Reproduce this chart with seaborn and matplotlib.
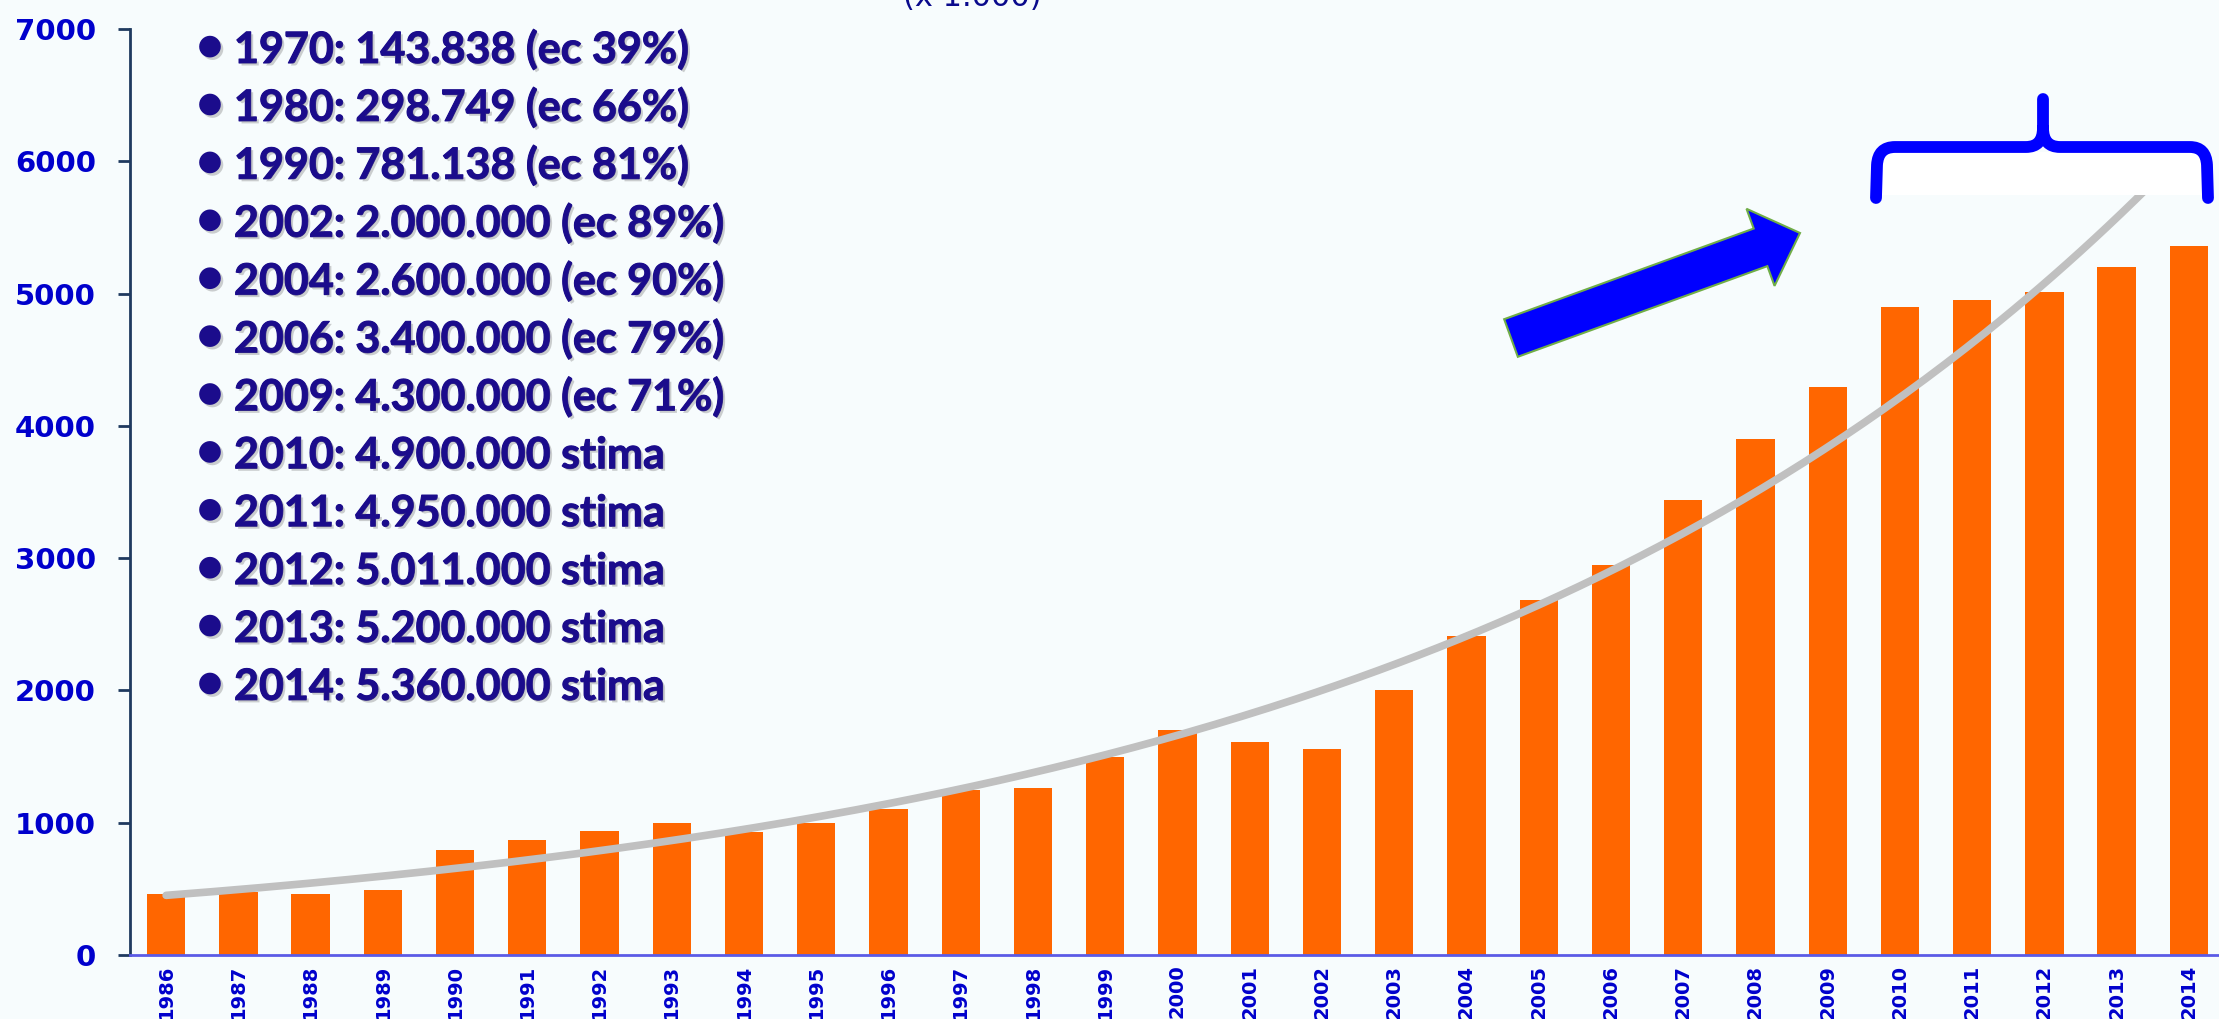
import numpy as np
import pandas as pd
import matplotlib
matplotlib.use('Agg')
import matplotlib.pyplot as plt
import matplotlib.patheffects as pe
from matplotlib.patches import FancyArrow, Rectangle, PathPatch
from matplotlib.path import Path
from matplotlib.transforms import Affine2D
import seaborn as sns

# data (x 1.000)
years = [str(y) for y in range(1986, 2015)]
cases = [460, 480, 460, 490, 790, 870, 935, 1000, 930, 1000,
         1100, 1250, 1260, 1500, 1700, 1610, 1560, 2000, 2410, 2680,
         2950, 3440, 3900, 4290, 4900, 4950, 5011, 5200, 5360]
y_ticks = [0, 1000, 2000, 3000, 4000, 5000, 6000, 7000]
notes = ['1970: 143.838 (ec 39%)',
         '1980: 298.749 (ec 66%)',
         '1990: 781.138 (ec 81%)',
         '2002: 2.000.000 (ec 89%)',
         '2004: 2.600.000 (ec 90%)',
         '2006: 3.400.000 (ec 79%)',
         '2009: 4.300.000 (ec 71%)',
         '2010: 4.900.000 stima',
         '2011: 4.950.000 stima',
         '2012: 5.011.000 stima',
         '2013: 5.200.000 stima',
         '2014: 5.360.000 stima']

W, H = 2219, 1019
BG = '#F7FCFD'
TICKBLUE = '#0000CC'
INK = '#1B0C8C'

sns.set_style('white')
plt.rcParams['font.family'] = ['DejaVu Sans']

fig = plt.figure(figsize=(W / 100, H / 100), dpi=100, facecolor=BG)
ax = fig.add_axes([130 / W, 1 - 955 / H, 2095 / W, 926 / H])
ax.set_facecolor(BG)

df = pd.DataFrame({'anno': years, 'casi': cases})
sns.barplot(data=df, x='anno', y='casi', color='#FF6600', saturation=1,
            width=0.53, linewidth=0, ax=ax, zorder=2)

# exponential trend line (fit on log values)
t = np.arange(len(cases))
b, a = np.polyfit(t, np.log(cases), 1)
tt = np.linspace(0, len(cases) - 1, 300)
ax.plot(tt, np.exp(a + b * tt), color='#C0C0C0', lw=5.5,
        solid_capstyle='round', zorder=3)

ax.set_xlim(-0.5, len(cases) - 0.5)
ax.set_ylim(0, 7000)
ax.set_xlabel('')
ax.set_ylabel('')

for s in ['top', 'right']:
    ax.spines[s].set_visible(False)
ax.spines['left'].set_color('#1F3A5F')
ax.spines['left'].set_linewidth(2)
ax.spines['bottom'].set_color('#5B5BE6')
ax.spines['bottom'].set_linewidth(2)

ax.set_xticks(t)
ax.set_xticklabels(years, rotation=90)
ax.set_xticks(np.arange(-0.5, len(cases), 1), minor=True)
ax.tick_params(axis='x', which='major', length=0, pad=7,
               labelsize=14, labelcolor=TICKBLUE)
ax.tick_params(axis='x', which='minor', length=5.5, width=1.2,
               color='#4040E0', direction='out')
ax.set_yticks(y_ticks)
ax.tick_params(axis='y', length=8.6, width=2, color='#1F3A5F', pad=16,
               labelsize=21, labelcolor=TICKBLUE, left=True)
for lbl in ax.get_xticklabels() + ax.get_yticklabels():
    lbl.set_fontweight('bold')

# bullet list
shadow = [pe.withSimplePatchShadow(offset=(1.8, -1.8), shadow_rgbFace='#777777', alpha=0.35)]
for i, s in enumerate(notes):
    base = 63 + 57.9 * i
    fig.text(234 / W, 1 - base / H, s, fontsize=31, fontweight='bold',
             family=['Lato', 'DejaVu Sans'], color=INK, va='baseline',
             path_effects=[pe.Stroke(linewidth=0.8, foreground=INK)] + shadow)
    fig.text(210 / W, 1 - (base - 15.5) / H, '\u2022', fontsize=42,
             family=['Lato', 'DejaVu Sans'], color=INK, ha='center', va='center',
             path_effects=shadow)

fig.text(903 / W, 1 - 6 / H, '(x 1.000)', fontsize=22, color='#0A0A8C', va='baseline')

# decorations in pixel coordinates (origin top-left)
px = Affine2D().scale(1 / W, -1 / H).translate(0, 1) + fig.transFigure

fig.add_artist(Rectangle((1878, 152), 329, 43, fc='white', ec='none',
                         transform=px, zorder=1.5))

verts = [(1876, 198), (1877, 165), (1878, 147), (1895, 147), (2026, 147),
         (2043, 147), (2043, 128), (2043, 99),
         (2043, 128), (2043, 147), (2060, 147), (2190, 147),
         (2206, 147), (2207, 165), (2208, 198)]
codes = [Path.MOVETO, Path.LINETO, Path.CURVE3, Path.CURVE3, Path.LINETO,
         Path.CURVE3, Path.CURVE3, Path.LINETO,
         Path.MOVETO, Path.CURVE3, Path.CURVE3, Path.LINETO,
         Path.CURVE3, Path.CURVE3, Path.LINETO]
brace = PathPatch(Path(verts, codes), fill=False, ec='#0000FF', lw=8.5,
                  capstyle='round', joinstyle='round', transform=px, zorder=3)
fig.add_artist(brace)

arrow = FancyArrow(1511, 338, 289, -105, width=40, head_width=82, head_length=42,
                   length_includes_head=True, fc='#0000FF', ec='#70AD47', lw=1.5,
                   transform=px, zorder=3)
fig.add_artist(arrow)

fig.savefig('out.png', dpi=100, facecolor=BG)
